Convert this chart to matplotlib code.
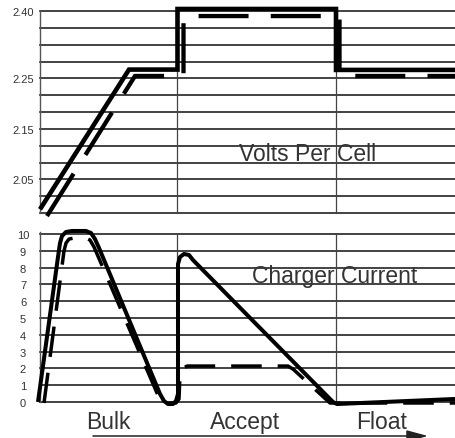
import matplotlib
matplotlib.use("Agg")
import matplotlib.pyplot as plt

plt.rcParams['font.family'] = ['Liberation Sans', 'DejaVu Sans']
plt.rcParams['lines.scale_dashes'] = False

# ---------------- data (time in arbitrary units) -------------
# Top panel: voltage expressed in grid-row units (tick labels give volts)
volt_ticks = [2, 5, 8, 12]
volt_labels = ['2.05', '2.15', '2.25', '2.40']
volt_rows = list(range(0, 13))

volt_solid_t = [0, 89, 137.5, 137.5, 296, 296, 415]
volt_solid_v = [0.22, 8.52, 8.52, 12.12, 12.12, 8.50, 8.50]

volt_dash_t = [7, 95, 143.5, 143.5, 299.5, 299.5, 415]
volt_dash_v = [-0.18, 8.14, 8.14, 11.7, 11.7, 8.14, 8.14]

# Bottom panel: charger current 0..10
cur_ticks = list(range(0, 11))
cur_labels = [str(v) for v in cur_ticks]

cur_solid_t = [-2, 18, 20, 22, 26, 32, 46, 51, 55, 59, 120, 124, 128, 133, 136,
               138, 138, 140, 144, 149, 153, 293, 297, 415]
cur_solid_c = [0.0, 8.63, 9.46, 9.88, 10.12, 10.18, 10.18, 10.06, 9.70, 9.17, 0.48,
               0.06, -0.12, -0.12, 0.06, 0.48, 8.21, 8.63, 8.81, 8.75, 8.45, 0.0,
               -0.12, 0.18]

cur_dash_t = [4, 24, 26, 29, 34, 46, 50, 54, 120, 123, 136, 139, 140, 142, 147,
              248, 253, 290, 415]
cur_dash_c = [-0.06, 8.99, 9.46, 9.70, 9.76, 9.76, 9.64, 9.23, 0.12, -0.06, -0.06,
              0.18, 1.61, 1.96, 2.14, 2.14, 1.96, -0.06, -0.06]

phase_bounds = [137, 296]
phase_names = ['Bulk', 'Accept', 'Float']
phase_centers = [68.5, 205.5, 341.5]

# ---------------- figure ----------------
W, H = 455, 439
fig = plt.figure(figsize=(W / 100, H / 100), dpi=100)
fig.patch.set_facecolor('white')

def axes_px(x0, x1, ytop, ybot):
    return fig.add_axes([x0 / W, (H - ybot) / H, (x1 - x0) / W, (ybot - ytop) / H])

ax1 = axes_px(40, 455, 12, 214)
ax2 = axes_px(40, 455, 235, 403)

grid_col = '#222222'
txt_col = '#333333'

for ax in (ax1, ax2):
    for s in ax.spines.values():
        s.set_visible(False)
    ax.set_xlim(0, 415)
    ax.set_xticks([])
    ax.tick_params(axis='y', length=0, labelsize=8, labelcolor=txt_col)
    ax.patch.set_alpha(0)

# top panel
ax1.set_ylim(0, 12)
for r in volt_rows:
    ax1.axhline(r, color=grid_col, lw=1.2, zorder=1, clip_on=False)
ax1.plot([0, 0], [0, 12], color='#555555', lw=1.0, zorder=1, clip_on=False)
for b in phase_bounds:
    ax1.plot([b, b], [0, 12], color='#444444', lw=0.9, zorder=1, clip_on=False)
ax1.set_yticks(volt_ticks)
ax1.set_yticklabels(volt_labels)
ax1.tick_params(axis='y', pad=4.3)

ax1.plot(volt_solid_t, volt_solid_v, color='black', lw=3.3, solid_joinstyle='miter',
         solid_capstyle='butt', zorder=3, clip_on=False)
ax1.plot(volt_dash_t, volt_dash_v, color='black', lw=3.1, dashes=(36, 16),
         dash_joinstyle='miter', dash_capstyle='butt', zorder=3, clip_on=False)
ax1.text(267.5, 3.15, 'Volts Per Cell', fontsize=16.5, color=txt_col,
         ha='center', va='baseline', zorder=4)

# bottom panel
ax2.set_ylim(0, 10)
for r in cur_ticks:
    ax2.axhline(r, color=grid_col, lw=1.2, zorder=1, clip_on=False)
ax2.plot([0, 0], [0, 10.1], color='#555555', lw=1.0, zorder=1, clip_on=False)
for b in phase_bounds:
    ax2.plot([b, b], [0, 10], color='#444444', lw=0.9, zorder=1, clip_on=False)
ax2.set_yticks(cur_ticks)
ax2.set_yticklabels(cur_labels)
for lab in ax2.get_yticklabels():
    lab.set_horizontalalignment('center')
ax2.tick_params(axis='y', pad=12.2)

ax2.plot(cur_solid_t, cur_solid_c, color='black', lw=2.9, solid_joinstyle='round',
         solid_capstyle='butt', zorder=3, clip_on=False)
ax2.plot(cur_dash_t, cur_dash_c, color='black', lw=2.5, dashes=(22, 11.5),
         dash_joinstyle='round', dash_capstyle='butt', zorder=3, clip_on=False)
ax2.text(295, 7.14, 'Charger Current', fontsize=16.5, color=txt_col,
         ha='center', va='baseline', zorder=4)

for name, c in zip(phase_names, phase_centers):
    ax2.text(c, -1.55, name, fontsize=16.5, color=txt_col, ha='center',
             va='baseline', clip_on=False)

# progress arrow at bottom
ax2.annotate('', xy=(428 / W, (H - 437) / H), xytext=(93 / W, (H - 437) / H),
             xycoords='figure fraction', textcoords='figure fraction',
             arrowprops=dict(arrowstyle='-|>,head_length=1.3,head_width=0.35',
                             mutation_scale=10, lw=1.1, color='#222222',
                             shrinkA=0, shrinkB=0))

fig.savefig('out.png', dpi=100, facecolor='white')
